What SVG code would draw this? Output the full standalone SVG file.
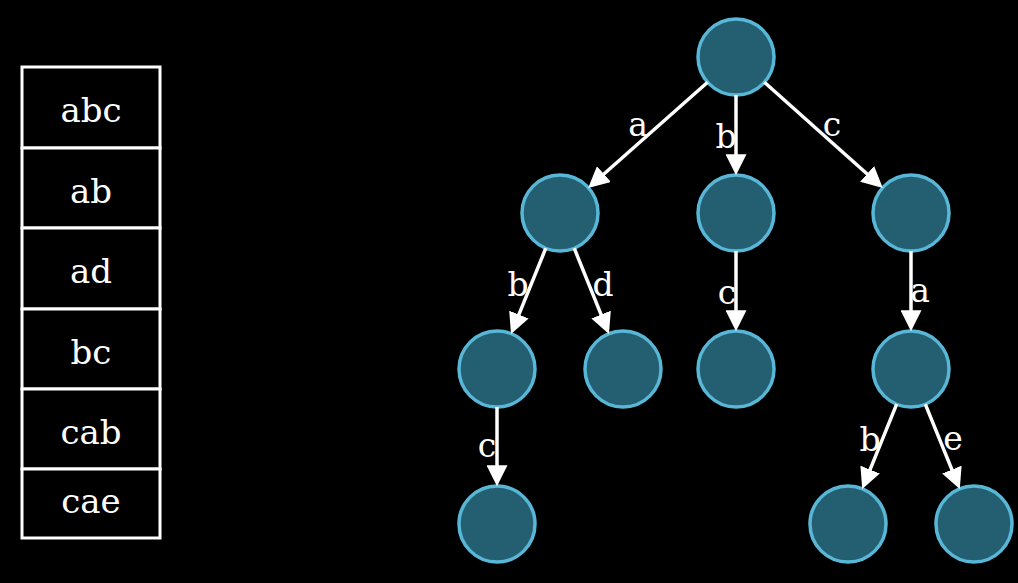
<svg xmlns="http://www.w3.org/2000/svg" width="1018" height="583" viewBox="0 0 1018 583">
<style>
.bg{fill:#000}
.cell{fill:#000;stroke:#fff;stroke-width:3}
.ct{font-family:"DejaVu Serif","Liberation Serif",serif;font-size:34px;fill:#fff;text-anchor:middle}
.node{fill:#245f71;stroke:#58b6d6;stroke-width:3.5}
.edge{stroke:#fff;stroke-width:3.5;fill:none}
.lbl{font-family:"DejaVu Serif","Liberation Serif",serif;font-size:33px;fill:#fff;text-anchor:middle}
</style>
<defs>
<marker id="ah" viewBox="0 0 20 20" refX="14" refY="10" markerWidth="21" markerHeight="21" markerUnits="userSpaceOnUse" orient="auto">
<path d="M0,0 L20,10 L0,20 z" fill="#fff"/>
</marker>
</defs>
<rect class="bg" x="0" y="0" width="1018" height="583"/>
<g id="table">
<rect class="cell" x="22" y="67" width="138" height="81"/>
<rect class="cell" x="22" y="148" width="138" height="80"/>
<rect class="cell" x="22" y="228" width="138" height="81"/>
<rect class="cell" x="22" y="309" width="138" height="80"/>
<rect class="cell" x="22" y="389" width="138" height="80"/>
<rect class="cell" x="22" y="469" width="138" height="69"/>
<text class="ct" x="91" y="122">abc</text>
<text class="ct" x="91" y="203">ab</text>
<text class="ct" x="91" y="283">ad</text>
<text class="ct" x="91" y="364">bc</text>
<text class="ct" x="91" y="444">cab</text>
<text class="ct" x="91" y="513">cae</text>
</g>
<g id="n0"><circle class="node" cx="736" cy="57" r="38"/></g>
<g id="n1"><circle class="node" cx="560" cy="213" r="38"/></g>
<g id="n2"><circle class="node" cx="736" cy="213" r="38"/></g>
<g id="n3"><circle class="node" cx="911" cy="213" r="38"/></g>
<g id="n4"><circle class="node" cx="497" cy="369" r="38"/></g>
<g id="n5"><circle class="node" cx="623" cy="369" r="38"/></g>
<g id="n6"><circle class="node" cx="736" cy="369" r="38"/></g>
<g id="n7"><circle class="node" cx="911" cy="369" r="38"/></g>
<g id="n8"><circle class="node" cx="497" cy="524" r="38"/></g>
<g id="n9"><circle class="node" cx="848" cy="524" r="38"/></g>
<g id="n10"><circle class="node" cx="974" cy="524" r="38"/></g>
<g id="connectors">
<line class="edge" marker-end="url(#ah)" x1="707.6" y1="82.2" x2="592.9" y2="183.8"/>
<line class="edge" marker-end="url(#ah)" x1="736" y1="95" x2="736" y2="169"/>
<line class="edge" marker-end="url(#ah)" x1="764.4" y1="82.3" x2="878.1" y2="183.7"/>
<line class="edge" marker-end="url(#ah)" x1="545.8" y1="248.2" x2="513.4" y2="328.2"/>
<line class="edge" marker-end="url(#ah)" x1="574.2" y1="248.2" x2="606.6" y2="328.2"/>
<line class="edge" marker-end="url(#ah)" x1="736" y1="251" x2="736" y2="325"/>
<line class="edge" marker-end="url(#ah)" x1="911" y1="251" x2="911" y2="325"/>
<line class="edge" marker-end="url(#ah)" x1="497" y1="407" x2="497" y2="480"/>
<line class="edge" marker-end="url(#ah)" x1="896.7" y1="404.2" x2="864.6" y2="483.2"/>
<line class="edge" marker-end="url(#ah)" x1="925.3" y1="404.2" x2="957.4" y2="483.2"/>
<text class="lbl" x="638" y="136">a</text>
<text class="lbl" x="726" y="148">b</text>
<text class="lbl" x="832" y="136">c</text>
<text class="lbl" x="518" y="296">b</text>
<text class="lbl" x="603" y="296">d</text>
<text class="lbl" x="727" y="304">c</text>
<text class="lbl" x="920" y="302">a</text>
<text class="lbl" x="487" y="457">c</text>
<text class="lbl" x="870" y="451">b</text>
<text class="lbl" x="953" y="450">e</text>
</g>
</svg>
